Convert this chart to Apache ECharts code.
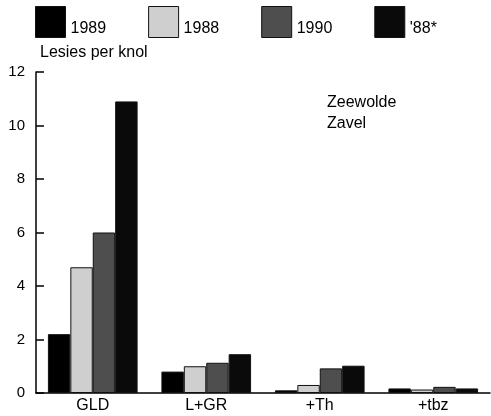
<!DOCTYPE html>
<html>
<head>
<meta charset="utf-8">
<script src="https://cdn.jsdelivr.net/npm/echarts@6/dist/echarts.min.js"></script>
<style>html,body{margin:0;padding:0;background:#fff}#c{width:491px;height:416px}</style>
</head>
<body>
<div id="c"></div>
<script>
const categories = ['GLD', 'L+GR', '+Th', '+tbz'];
const seriesNames = ['1989', '1988', '1990', "'88*"];
const v1989 = [2.2, 0.8, 0.1, 0.17];
const v1988 = [4.7, 1.0, 0.3, 0.13];
const v1990 = [6.0, 1.13, 0.92, 0.23];
const v88s = [10.9, 1.45, 1.02, 0.17];
const yTicks = [0, 2, 4, 6, 8, 10, 12];

const font = 'Liberation Sans, Arial, Helvetica, sans-serif';
const colors = ['#000000', '#cfcfcf', '#4e4e4e', '#0a0a0a'];
const values = [v1989, v1988, v1990, v88s];

const chart = echarts.init(document.getElementById('c'));
chart.setOption({
  animation: false,
  backgroundColor: '#fff',
  textStyle: { fontFamily: font, color: '#000' },
  title: [
    { text: 'Lesies per knol', left: 40, top: 45, padding: 0, textStyle: { fontFamily: font, fontSize: 16, fontWeight: 'normal', color: '#000' } },
    { text: 'Zeewolde\nZavel', left: 327, top: 92, padding: 0, textStyle: { fontFamily: font, fontSize: 16, fontWeight: 'normal', color: '#000', lineHeight: 21 } }
  ],
  legend: {
    left: 35, top: 6, padding: 0, itemWidth: 30, itemHeight: 31, itemGap: 42,
    icon: 'rect',
    itemStyle: { borderColor: '#111', borderWidth: 1 },
    formatter: name => '{s| }\n{t|' + name + '}',
    textStyle: {
      fontFamily: font, fontSize: 16, color: '#000',
      rich: {
        s: { fontSize: 2, lineHeight: 13 },
        t: { fontFamily: font, fontSize: 16, lineHeight: 16, color: '#000' }
      }
    },
    data: seriesNames
  },
  grid: { left: 36, right: 1, top: 72, bottom: 23, containLabel: false },
  xAxis: {
    type: 'category', data: categories,
    axisLine: { lineStyle: { color: '#000', width: 1.5 } },
    axisTick: { inside: true, length: 8, lineStyle: { color: '#000', width: 1.5 } },
    axisLabel: { fontFamily: font, fontSize: 16, color: '#000', margin: 5 }
  },
  yAxis: {
    type: 'value', min: 0, max: 12, interval: 2,
    axisLine: { show: true, lineStyle: { color: '#000', width: 1.5 } },
    axisTick: { show: true, inside: true, length: 8, lineStyle: { color: '#000', width: 1.5 } },
    axisLabel: { fontFamily: font, fontSize: 15, color: '#000', margin: 11,
      formatter: v => yTicks.includes(v) ? String(v) : '' },
    splitLine: { show: false }
  },
  series: seriesNames.map((n, i) => ({
    name: n, type: 'bar', data: values[i],
    barGap: '0%', barCategoryGap: '21%',
    itemStyle: { color: colors[i], borderColor: '#111', borderWidth: 1 }
  }))
});
</script>
</body>
</html>
